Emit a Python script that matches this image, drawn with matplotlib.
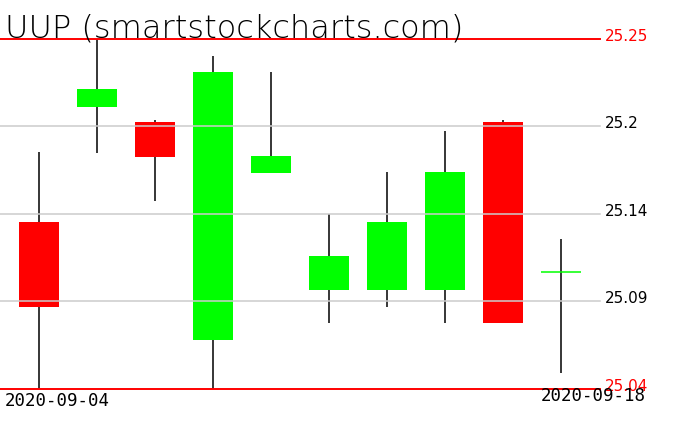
import matplotlib
matplotlib.use("Agg")
import matplotlib.pyplot as plt

# Data
dates = ["2020-09-04", "2020-09-07", "2020-09-08", "2020-09-09", "2020-09-10",
         "2020-09-11", "2020-09-14", "2020-09-15", "2020-09-16", "2020-09-18"]
opens  = [25.140, 25.2094, 25.2002, 25.0696, 25.1698, 25.0996, 25.0996, 25.0996, 25.2002, 25.1102]
closes = [25.0892, 25.2200, 25.1794, 25.2302, 25.1798, 25.1198, 25.1402, 25.1702, 25.0798, 25.1102]
highs  = [25.1822, 25.2500, 25.2012, 25.2398, 25.2302, 25.1450, 25.1702, 25.1948, 25.2014, 25.1300]
lows   = [25.0400, 25.1818, 25.1526, 25.0400, 25.1698, 25.0798, 25.0894, 25.0798, 25.0798, 25.0498]
level_values = [25.25, 25.1975, 25.145, 25.0925, 25.04]
level_labels = ["25.25", "25.2", "25.14", "25.09", "25.04"]
title = "UUP (smartstockcharts.com)"

W, H = 676, 431
fig = plt.figure(figsize=(W / 100, H / 100), dpi=100)
fig.patch.set_facecolor("white")

left_px, right_px, top_px, bot_px = 0, 600, 40, 390
ax = fig.add_axes([left_px / W, 1 - bot_px / H, (right_px - left_px) / W, (bot_px - top_px) / H])
ax.set_facecolor("white")
for s in ax.spines.values():
    s.set_visible(False)
ax.set_xticks([])
ax.set_yticks([])

step = 58.0
x0 = 39.0
ax.set_xlim((left_px - x0) / step, (right_px - x0) / step)
ax.set_ylim(min(level_values), max(level_values))
body_w = 40 / step

xs = list(range(len(opens)))
# wicks
ax.vlines(xs, lows, highs, colors="black", linewidth=1.1, zorder=1)
# bodies
for i, (o, c) in enumerate(zip(opens, closes)):
    if abs(c - o) < 1e-9:
        ax.hlines(o, i - body_w / 2, i + body_w / 2, colors="#00ff00", linewidth=1.1, zorder=2)
    else:
        col = "#00ff00" if c > o else "#ff0000"
        ax.bar(i, abs(c - o), bottom=min(o, c), width=body_w, color=col, linewidth=0, zorder=2)

# grid / level lines
for v, lab in zip(level_values, level_labels):
    is_edge = v in (max(level_values), min(level_values))
    col = "#ff0000" if is_edge else "#cccccc"
    ax.axhline(v, color=col, linewidth=1.4 if is_edge else 1.1, zorder=3, clip_on=False)
    ypx = bot_px - (v - min(level_values)) / (max(level_values) - min(level_values)) * (bot_px - top_px)
    fig.text(605 / W, 1 - (ypx + 1) / H, lab, color=("#ff0000" if is_edge else "black"),
             fontsize=11, ha="left", va="baseline", family="DejaVu Sans")

fig.text(5 / W, 1 - 38 / H, title, fontsize=23, fontweight="light",
         family="DejaVu Sans", ha="left", va="baseline", color="black")

fig.text(5 / W, 1 - 406 / H, dates[0], fontsize=12.5, family="DejaVu Sans Mono",
         ha="left", va="baseline")
fig.text(646 / W, 1 - 401 / H, dates[-1], fontsize=12.5, family="DejaVu Sans Mono",
         ha="right", va="baseline")

fig.savefig("out.png", dpi=100, facecolor="white")
